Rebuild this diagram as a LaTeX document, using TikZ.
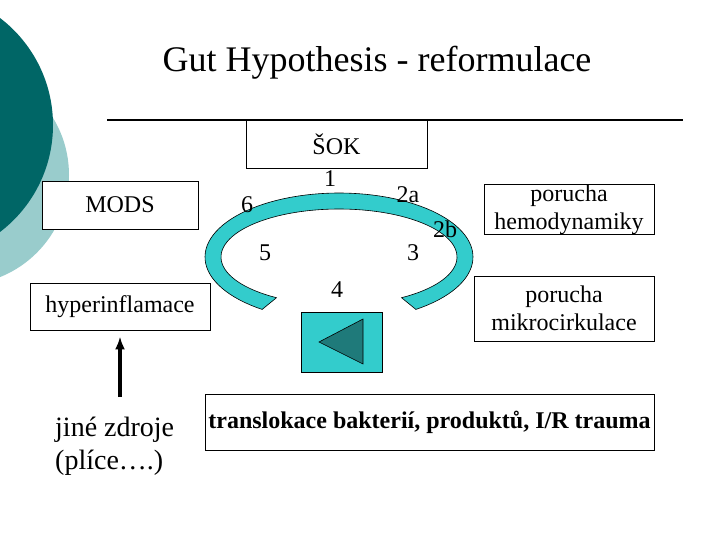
\documentclass[tikz,border=0pt]{standalone}
\usepackage{fontspec}
\usetikzlibrary{arrows.meta}
\setmainfont{Liberation Serif}
\definecolor{darkteal}{RGB}{0,102,102}
\definecolor{lightteal}{RGB}{153,204,204}
\definecolor{turq}{RGB}{51,204,204}
\definecolor{tri}{RGB}{31,122,122}
\tikzset{
  box/.style={draw=black, line width=0.9pt, fill=white, inner sep=0pt, align=center,
              font=\fontsize{24}{28}\selectfont},
  num/.style={inner sep=0pt, font=\fontsize{24}{28}\selectfont},
  plain/.style={inner sep=0pt, align=left, font=\fontsize{28}{33}\selectfont}
}
\begin{document}
\begin{tikzpicture}[x=1pt,y=-1pt]
\useasboundingbox (0,0) rectangle (720,540);
\fill[white] (0,0) rectangle (720,540);
\begin{scope}
\clip (0,0) rectangle (720,540);
\fill[lightteal] (-41,175) circle[radius=110pt];
\fill[darkteal] (-81.5,125) circle[radius=134.5pt];
\end{scope}
% title
\node[inner sep=0pt, font=\fontsize{36}{40}\selectfont] (title) at (377,63) {Gut Hypothesis - reformulace};
\draw[line width=2pt] (107,120) -- (683,120);
% ring
\draw[fill=turq, draw=black, line width=0.6pt]
  plot[domain=125:415, samples=90] ({339+134*cos(\x)}, {257+64*sin(\x)})
  -- plot[domain=418:122, samples=90] ({339+118*cos(\x)}, {257+48*sin(\x)}) -- cycle;
% boxes
\node[box, minimum width=181pt, minimum height=48pt] (sok) at (336.5,144) {ŠOK};
\node[box, minimum width=156pt, minimum height=48pt] (mods) at (120,205) {MODS};
\node[box, minimum width=180pt, minimum height=47pt] (hyper) at (120,306.5) {hyperinflamace};
\node[box, minimum width=170pt, minimum height=47pt] (hemo) at (569,209.5) {porucha\\hemodynamiky};
\node[box, minimum width=180pt, minimum height=65pt] (mikro) at (564,308.5) {porucha\\mikrocirkulace};
\node[box, minimum width=449pt, minimum height=56pt, font=\fontsize{24}{28}\selectfont\bfseries] (trans) at (429.5,422) {translokace bakterií, produktů, I/R trauma};
% numbers
\node[num] (n1) at (330,179) {1};
\node[num] (n2a) at (408,195) {2a};
\node[num] (n6) at (247,205) {6};
\node[num] (n2b) at (445,229) {2b};
\node[num] (n5) at (265,253) {5};
\node[num] (n3) at (413,253) {3};
\node[num] (n4) at (337,290) {4};
% square with triangle
\node[draw=black, line width=0.6pt, fill=turq, minimum width=81pt, minimum height=60pt, inner sep=0pt] (sq) at (341.5,342) {};
\draw[fill=tri, draw=black, line width=0.6pt] (363,319) -- (319,342) -- (363,364) -- cycle;
% other sources
\node[plain, anchor=west] (jine) at (55,446.5) {jiné zdroje\\(plíce….)};
\coordinate (arrstart) at (120,397);
\draw[line width=3.5pt, -{Latex[length=13pt,width=10pt]}, shorten >=6pt] (arrstart) -- (hyper.south);
\end{tikzpicture}
\end{document}
